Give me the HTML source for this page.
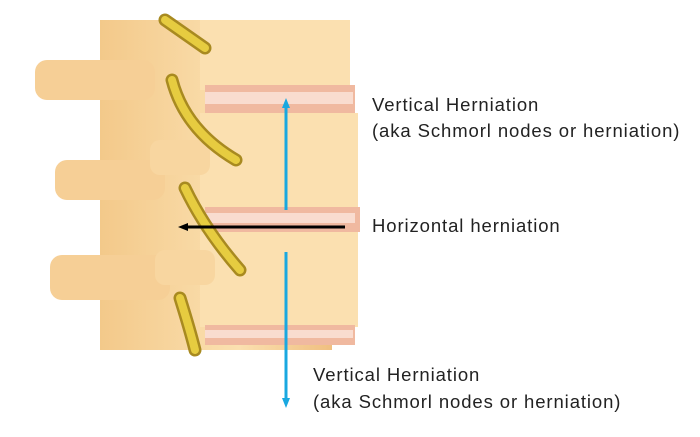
<!DOCTYPE html>
<html><head><style>
html,body{margin:0;padding:0;background:#fff;}
.t{position:absolute;font-family:"Liberation Sans",sans-serif;font-size:18.5px;letter-spacing:0.9px;color:#222;white-space:nowrap;}
</style></head><body>
<div style="position:relative;width:700px;height:437px;overflow:hidden;">
<svg width="700" height="437" style="position:absolute;left:0;top:0">
<defs>
<linearGradient id="b" x1="0" x2="1"><stop offset="0" stop-color="#f3c98a"/><stop offset="0.6" stop-color="#fbe0b0"/><stop offset="1" stop-color="#f0bf80"/></linearGradient>
<marker id="ab" markerUnits="userSpaceOnUse" markerWidth="10" markerHeight="10" refX="5" refY="5" orient="auto"><path d="M0,1 L10,5 L0,9 z" fill="#19a8e0"/></marker>
<marker id="ak" markerUnits="userSpaceOnUse" markerWidth="10" markerHeight="10" refX="5" refY="5" orient="auto"><path d="M0,1 L10,5 L0,9 z" fill="#000"/></marker>
</defs>
<rect x="100" y="20" width="232" height="330" fill="url(#b)"/>
<rect x="200" y="20" width="150" height="70" fill="#fbe0b0"/>
<rect x="205" y="85" width="150" height="28" fill="#f0b9a0"/>
<rect x="205" y="92" width="148" height="12" fill="#f9dccf"/>
<rect x="200" y="113" width="158" height="97" fill="#fbe0b0"/>
<rect x="205" y="207" width="155" height="25" fill="#f0b9a0"/>
<rect x="205" y="213" width="150" height="10" fill="#f9dccf"/>
<rect x="200" y="232" width="158" height="95" fill="#fbe0b0"/>
<rect x="205" y="325" width="150" height="20" fill="#f0b9a0"/>
<rect x="205" y="330" width="148" height="8" fill="#f9dccf"/>
<rect x="35" y="60" width="120" height="40" rx="12" fill="#f6cf96"/>
<rect x="55" y="160" width="110" height="40" rx="12" fill="#f6cf96"/>
<rect x="50" y="255" width="120" height="45" rx="12" fill="#f6cf96"/>
<rect x="150" y="140" width="60" height="35" rx="10" fill="#f8d6a0"/>
<rect x="155" y="250" width="60" height="35" rx="10" fill="#f8d6a0"/>
<g stroke="#a88a20" stroke-width="13" stroke-linecap="round" fill="none"><path d="M165,20 L205,48"/><path d="M172,80 Q185,130 236,160"/><path d="M185,188 Q205,230 240,270"/><path d="M180,298 Q190,330 195,350"/></g>
<g stroke="#e6cc40" stroke-width="8" stroke-linecap="round" fill="none"><path d="M165,20 L205,48"/><path d="M172,80 Q185,130 236,160"/><path d="M185,188 Q205,230 240,270"/><path d="M180,298 Q190,330 195,350"/></g>
<line x1="286" y1="210" x2="286" y2="103" stroke="#19a8e0" stroke-width="3" marker-end="url(#ab)"/>
<line x1="286" y1="252" x2="286" y2="403" stroke="#19a8e0" stroke-width="3" marker-end="url(#ab)"/>
<line x1="345" y1="227" x2="183" y2="227" stroke="#000" stroke-width="3" marker-end="url(#ak)"/>
</svg>
<div class="t" style="left:372px;top:94px">Vertical Herniation</div>
<div class="t" style="left:372px;top:120px">(aka Schmorl nodes or herniation)</div>
<div class="t" style="left:372px;top:215px">Horizontal herniation</div>
<div class="t" style="left:313px;top:364px">Vertical Herniation</div>
<div class="t" style="left:313px;top:391px">(aka Schmorl nodes or herniation)</div>
</div>
</body></html>
